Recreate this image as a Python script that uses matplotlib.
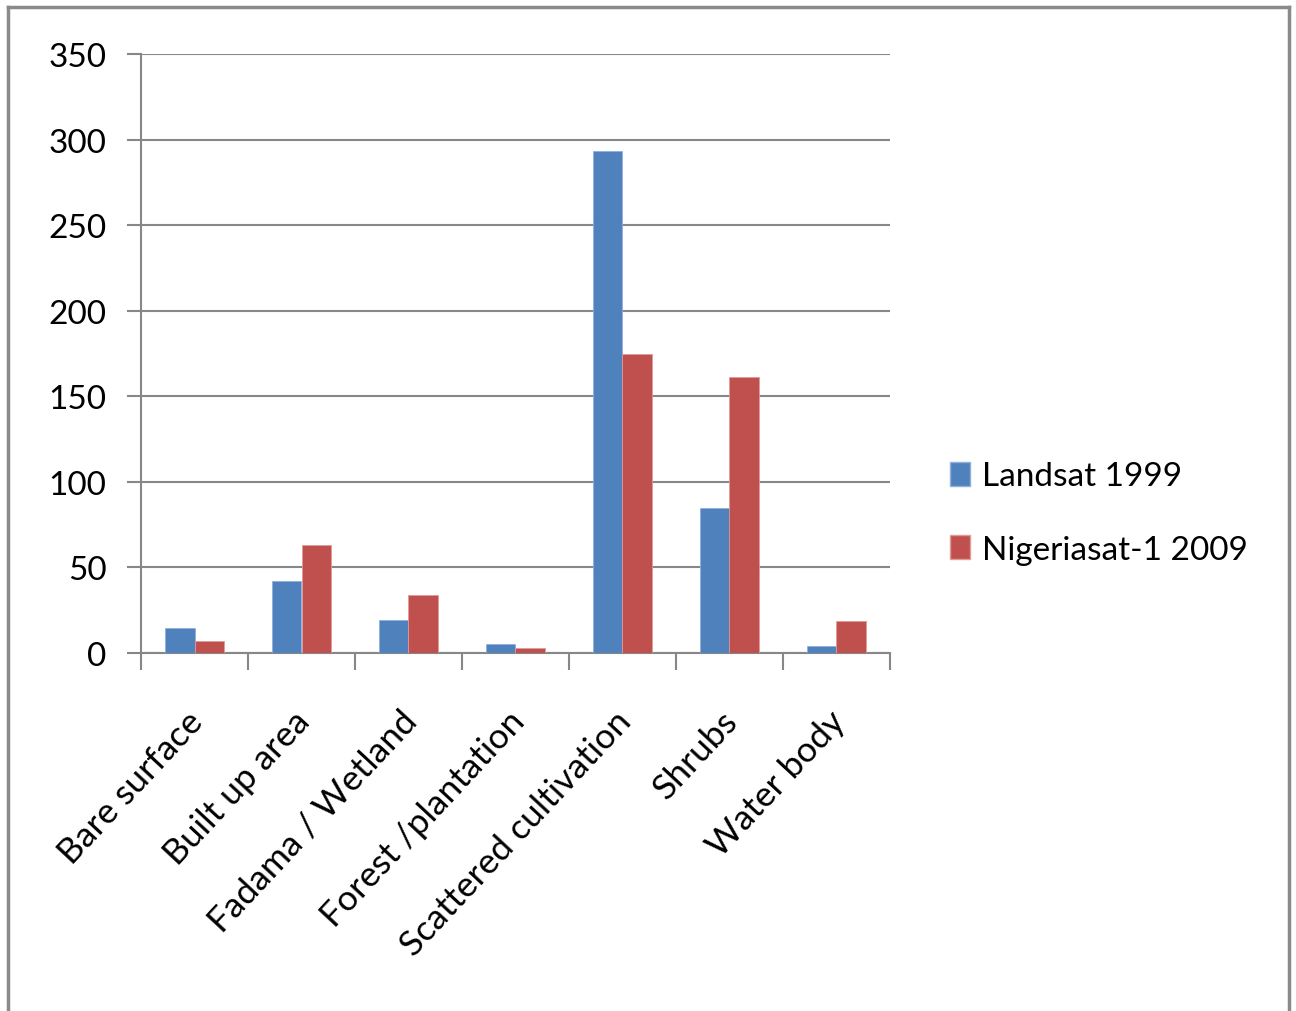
import numpy as np
import matplotlib
matplotlib.use("Agg")
from matplotlib import pyplot as plt
from matplotlib.lines import Line2D
from matplotlib.patches import Patch

categories = ["Bare surface", "Built up area", "Fadama / Wetland", "Forest /plantation",
              "Scattered cultivation", "Shrubs", "Water body"]
landsat_1999 = [14.5, 42.1, 19.0, 5.1, 293.6, 84.6, 3.8]
nigeriasat_2009 = [7.2, 63.0, 34.0, 2.8, 174.7, 161.0, 18.5]
series_names = ["Landsat 1999", "Nigeriasat-1 2009"]
yticks = [0, 50, 100, 150, 200, 250, 300, 350]

plt.rcParams['font.family'] = ['Lato', 'DejaVu Sans']

W, H = 1296, 1012
fig = plt.figure(figsize=(W / 100, H / 100), dpi=100)
ax = fig.add_axes([141 / W, 1 - 654 / H, (890 - 141) / W, (654 - 55) / H])

blue = "#4F81BD"
red = "#C0504D"
grid_c = "#878787"

x = np.arange(len(categories))
bw = 0.28
ax.bar(x - bw / 2, landsat_1999, bw, color=blue, edgecolor="#8fb0dc", linewidth=0.6, zorder=3)
ax.bar(x + bw / 2, nigeriasat_2009, bw, color=red, edgecolor="#e09a98", linewidth=0.6, zorder=3)

ax.set_xlim(-0.5, len(categories) - 0.5)
ax.set_ylim(0, 350)
ax.set_yticks(yticks)
ax.set_yticklabels([str(v) for v in yticks], fontsize=24)
ax.yaxis.grid(True, color=grid_c, linewidth=1.5, zorder=0)
ax.set_axisbelow(True)

for s in ["top", "right"]:
    ax.spines[s].set_visible(False)
for s in ["left", "bottom"]:
    ax.spines[s].set_color(grid_c)
    ax.spines[s].set_linewidth(1.5)

ax.tick_params(axis="y", length=10, width=1.5, color=grid_c, pad=15)
# category boundaries carry tick marks, labels sit at the centers
ax.set_xticks(np.arange(len(categories) + 1) - 0.5)
ax.set_xticklabels([])
ax.tick_params(axis="x", which="major", length=12, width=1.5, color=grid_c)
ax.set_xticks(x - 0.08, minor=True)
ax.set_xticklabels(categories, minor=True, rotation=47, ha="right",
                   rotation_mode="anchor", fontsize=25.5)
ax.tick_params(axis="x", which="minor", length=0, pad=37)

handles = [Patch(facecolor=blue, edgecolor="#8fb0dc"), Patch(facecolor=red, edgecolor="#e09a98")]
fig.legend(handles, series_names, loc="center left", bbox_to_anchor=(920 / W, 1 - 514 / H),
           frameon=False, fontsize=24, handlelength=0.6, handleheight=0.75,
           handletextpad=0.35, labelspacing=1.3)

# outer chart frame
fc = "#8a8a8a"
fig.add_artist(Line2D([8 / W, 1289 / W], [1 - 8 / H, 1 - 8 / H], color=fc, linewidth=2.5))
fig.add_artist(Line2D([8 / W, 8 / W], [0, 1 - 8 / H], color=fc, linewidth=2.5))
fig.add_artist(Line2D([1289 / W, 1289 / W], [0, 1 - 8 / H], color=fc, linewidth=2.5))

fig.savefig("out.png", dpi=100)
